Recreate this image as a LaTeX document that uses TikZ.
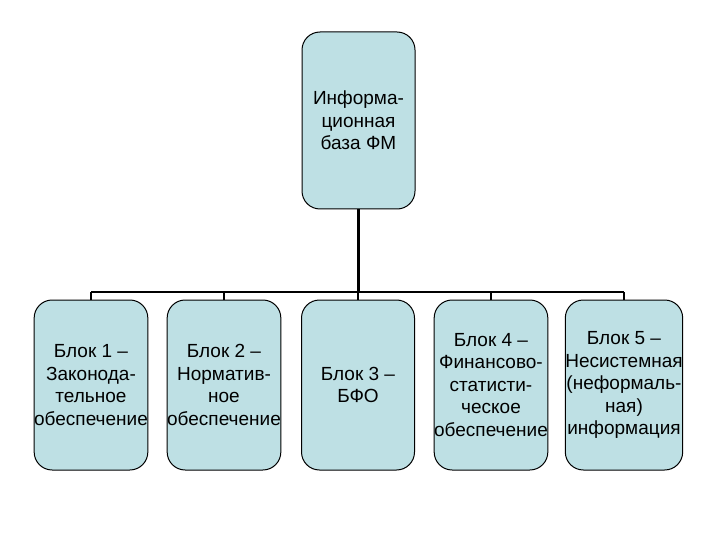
\documentclass[tikz,border=0pt]{standalone}
\usepackage{fontspec}
\setmainfont{Liberation Sans}
\definecolor{boxfill}{RGB}{190,224,228}
\begin{document}
\begin{tikzpicture}[x=1pt,y=-1pt,
  blk/.style={draw=black, line width=1pt, fill=boxfill, rounded corners=18pt,
    minimum width=113pt, minimum height=170pt, align=center, inner sep=0pt,
    font=\fontsize{19}{22.5}\selectfont},
  conn/.style={draw=black, line width=2pt}]
\useasboundingbox (0,0) rectangle (720,540);
\node[blk, minimum width=113pt, minimum height=177pt] (top) at (358.5,120.5) {Информа-\\ционная\\база ФМ};
\node[blk] (b1) at (91,385) {Блок 1 –\\Законода-\\тельное\\обеспечение};
\node[blk] (b2) at (224,385) {Блок 2 –\\Норматив-\\ное\\обеспечение};
\node[blk] (b3) at (358,385) {Блок 3 –\\БФО};
\node[blk] (b4) at (491,385) {Блок 4 –\\Финансово-\\статисти-\\ческое\\обеспечение};
\node[blk] (b5) at (624,385) {Блок 5 –\\Несистемная\\(неформаль-\\ная)\\информация};
\coordinate (bar) at (358,292);
\draw[conn, line width=3pt] (top.south) -- (top.south |- bar);
\draw[conn, line width=2.5pt] (b1.north |- bar) -- (b5.north |- bar);
\foreach \b in {b1,b2,b3,b4,b5} {
  \draw[conn] (\b.north) -- (\b.north |- bar);
}
\end{tikzpicture}
\end{document}
